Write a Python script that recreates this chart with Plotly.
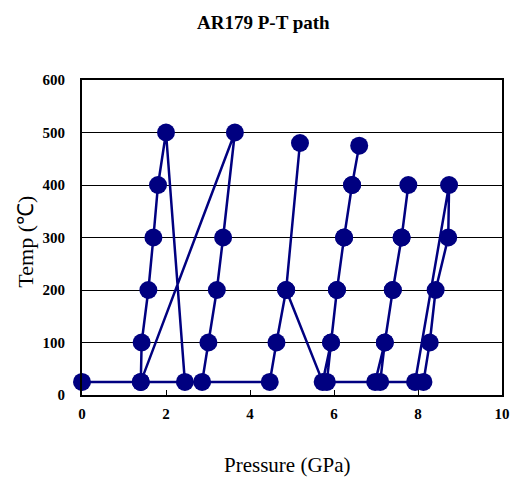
import plotly.graph_objects as go

# P-T path points in drawing order
pressure_gpa = [0.00, 1.40, 1.42, 1.58, 1.70, 1.81, 2.00, 2.45, 2.86, 3.01, 3.21, 3.36, 3.64, 1.40,
                4.47, 4.63, 4.86, 5.19, 4.86, 5.73, 5.93, 6.07, 6.24, 6.43, 6.60, 6.43, 6.24, 6.07,
                5.93, 5.83, 6.98, 7.21, 7.40, 7.61, 7.77, 7.61, 7.40, 7.21, 7.10, 7.93, 8.74, 8.72,
                8.42, 8.28, 8.13]
temp_c = [25, 25, 100, 200, 300, 400, 500, 25, 25, 100, 200, 300, 500, 25,
          25, 100, 200, 480, 200, 25, 100, 200, 300, 400, 475, 400, 300, 200,
          100, 25, 25, 100, 200, 300, 400, 300, 200, 100, 25, 25, 400, 300,
          200, 100, 25]

x_ticks = [0, 2, 4, 6, 8, 10]
y_ticks = [0, 100, 200, 300, 400, 500, 600]

navy = "#000080"
serif = "Liberation Serif, Times New Roman, serif"

fig = go.Figure()
fig.add_trace(go.Scatter(
    x=pressure_gpa, y=temp_c, mode="lines+markers",
    line=dict(color=navy, width=2.5),
    marker=dict(color=navy, size=18),
    cliponaxis=False, showlegend=False,
))

fig.update_layout(
    width=512, height=471,
    margin=dict(l=73.5, r=10, t=72, b=84),
    paper_bgcolor="white", plot_bgcolor="white",
    font=dict(family=serif, color="black"),
    xaxis=dict(range=[0, 10], tickvals=x_ticks, ticktext=[str(v) for v in x_ticks],
               showgrid=False, zeroline=False, showline=True, linecolor="black", linewidth=2,
               mirror=True, ticks="inside", ticklen=5, tickcolor="black", tickwidth=1,
               ticklabelstandoff=4,
               tickfont=dict(family=serif, size=15, color="black", weight="bold")),
    yaxis=dict(range=[0, 600], tickvals=y_ticks, ticktext=[str(v) for v in y_ticks],
               showgrid=True, gridcolor="black", gridwidth=1, zeroline=False,
               showline=True, linecolor="black", linewidth=2, mirror=True, ticks="",
               ticklabelstandoff=12,
               tickfont=dict(family=serif, size=15, color="black", weight="bold")),
    annotations=[
        dict(text="<b>AR179 P-T path</b>", xref="paper", yref="paper", x=0.433, y=1.184,
             xanchor="center", yanchor="middle",
             showarrow=False, font=dict(family=serif, size=19, color="black")),
        dict(text="Pressure (GPa)", xref="paper", yref="paper", x=0.49, y=-0.222,
             xanchor="center", yanchor="middle",
             showarrow=False, font=dict(family=serif, size=21, color="black")),
        dict(text="Temp (℃)", xref="paper", yref="paper", x=-0.134, y=0.486, textangle=-90,
             xanchor="center", yanchor="middle",
             showarrow=False, font=dict(family=serif, size=22, color="black")),
    ],
)

fig.write_html("out.html")
